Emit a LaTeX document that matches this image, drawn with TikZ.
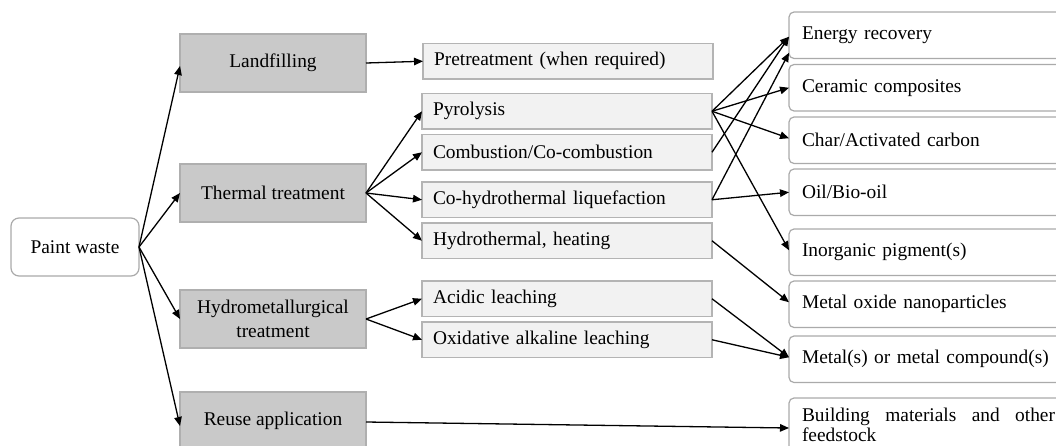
\documentclass[tikz,border=0pt]{standalone}
\usepackage{fontspec}
\setmainfont{Liberation Serif}
\usetikzlibrary{arrows.meta}
\definecolor{lfill}{RGB}{201,201,201}
\definecolor{ldraw}{RGB}{175,175,175}
\definecolor{mfill}{RGB}{242,242,242}
\definecolor{mdraw}{RGB}{180,180,180}
\definecolor{rdraw}{RGB}{170,170,170}
\begin{document}
\begin{tikzpicture}[x=1pt,y=-1pt,
  every node/.style={font=\fontsize{19.4}{22}\selectfont, inner sep=0pt, outer sep=0pt},
  lbox/.style={draw=ldraw, fill=lfill, line width=1.2pt, minimum width=186pt, minimum height=58pt, anchor=north west, align=center},
  mbox/.style={draw=mdraw, fill=mfill, line width=1.2pt, text width=268pt, minimum height=35.5pt, inner xsep=11pt, anchor=north west, align=left},
  rbox/.style={draw=rdraw, fill=white, line width=1.2pt, rounded corners=5pt, text width=260pt, minimum height=46.5pt, inner xsep=13pt, anchor=north west, align=left},
  arr/.style={line width=1.3pt, -{Triangle[length=9pt,width=7.5pt]}}
]
\useasboundingbox (0,0) rectangle (1056,445);
% source
\node[draw=rdraw, fill=white, line width=1.2pt, rounded corners=8pt, minimum width=128pt, minimum height=58pt, anchor=north west] (pw) at (11,218) {Paint waste};
% left boxes
\node[lbox] (land) at (180,34) {Landfilling};
\node[lbox] (therm) at (180,164) {Thermal treatment};
\node[lbox, font=\fontsize{19.4}{23.5}\selectfont] (hydro) at (180,290) {Hydrometallurgical\\treatment};
\node[lbox] (reuse) at (180,392) {Reuse application};
% middle boxes
\node[mbox] (pre) at (423,43.5) {Pretreatment (when required)};
\node[mbox] (pyro) at (422,93.5) {Pyrolysis};
\node[mbox] (comb) at (422,134.5) {Combustion/Co-combustion};
\node[mbox] (coh) at (422,182) {Co-hydrothermal liquefaction};
\node[mbox] (hyd) at (422,223) {Hydrothermal, heating};
\node[mbox] (acid) at (422,281) {Acidic leaching};
\node[mbox] (oxi) at (422,322) {Oxidative alkaline leaching};
% right boxes
\node[rbox] (energy) at (789,12) {Energy recovery};
\node[rbox] (ceram) at (789,64.5) {Ceramic composites};
\node[rbox] (char) at (789,117) {Char/Activated carbon};
\node[rbox] (oil) at (789,169) {Oil/Bio-oil};
\node[rbox] (inorg) at (789,229) {Inorganic pigment(s)};
\node[rbox] (mox) at (789,281) {Metal oxide nanoparticles};
\node[rbox] (metal) at (789,336) {Metal(s) or metal compound(s)};
\node[rbox, minimum height=54pt, text width=253pt, align=justify, font=\fontsize{19.4}{20.5}\selectfont] (build) at (789,398) {\hyphenpenalty=10000 \exhyphenpenalty=10000 Building materials and other feedstock};
% arrows from source
\draw[arr] (pw.east) -- ([yshift=-3pt]land.west);
\draw[arr] (pw.east) -- (therm.west);
\draw[arr] (pw.east) -- (hydro.west);
\draw[arr] (pw.east) -- ([yshift=-5pt]reuse.west);
% second level
\draw[arr] (land.east) -- (pre.west);
\draw[arr] (therm.east) -- (pyro.west);
\draw[arr] (therm.east) -- (comb.west);
\draw[arr] (therm.east) -- (coh.west);
\draw[arr] (therm.east) -- (hyd.west);
\draw[arr] (hydro.east) -- (acid.west);
\draw[arr] (hydro.east) -- (oxi.west);
\draw[arr] ([yshift=-1pt]reuse.east) -- ([yshift=-3pt]build.west);
% third level
\coordinate (eA) at ([yshift=-1.5pt]energy.west);
\coordinate (eB) at ([yshift=-17.5pt]energy.west);
\draw[arr] (pyro.east) -- (eA);
\draw[arr] (pyro.east) -- (ceram.west);
\draw[arr] (pyro.east) -- ([yshift=2pt]char.west);
\draw[arr] (pyro.east) -- ([yshift=2pt]inorg.west);
\draw[arr] (comb.east) -- (eA);
\draw[arr] (coh.east) -- (eB);
\draw[arr] (coh.east) -- (oil.west);
\draw[arr] (hyd.east) -- ([yshift=2pt]mox.west);
\draw[arr] (acid.east) -- ([yshift=2pt]metal.west);
\draw[arr] (oxi.east) -- ([yshift=2pt]metal.west);
\end{tikzpicture}
\end{document}
